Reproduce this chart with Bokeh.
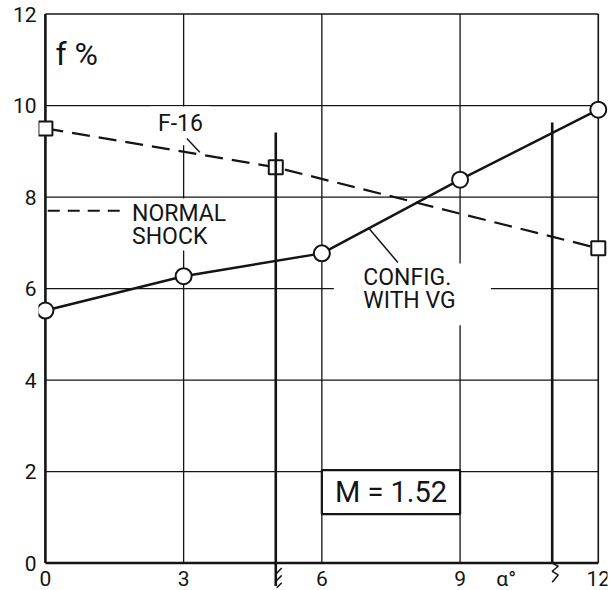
from bokeh.plotting import figure
from bokeh.models import FixedTicker, Range1d
from bokeh.embed import file_html
from bokeh.resources import INLINE
from bokeh.core.properties import value

# ---- data ----
alpha_vg = [0, 3, 6, 9, 12]
f_vg = [5.52, 6.27, 6.77, 8.38, 9.91]
alpha_f16 = [0, 5, 12]
f_f16 = [9.5, 8.65, 6.88]
normal_shock_f = 7.7
normal_shock_alpha = [0.05, 1.65]
x_ticks = [0, 3, 6, 9, 10, 12]
x_tick_labels = {10: "α°"}
y_ticks = [0, 2, 4, 6, 8, 10, 12]
x_grid = [3, 6, 9]
y_grid = [2, 4, 6, 8, 10]
vline_alpha = [5, 11]
vline_top = [9.41, 9.63]
mach_label = "M = 1.52"

FONT = value("Roboto")
INK = "#141414"

p = figure(width=613, height=590, x_range=Range1d(-0.15, 12.2), y_range=Range1d(-0.6, 12.1),
           output_backend="svg", toolbar_location=None,
           min_border_left=38, min_border_right=6, min_border_top=9, min_border_bottom=0)
p.outline_line_color = None
p.grid.visible = False
p.background_fill_color = "white"
p.border_fill_color = "white"

# axes: labels only, lines drawn below as glyphs
p.xaxis.fixed_location = 0
p.xaxis.ticker = FixedTicker(ticks=x_ticks)
p.xaxis.major_label_overrides = x_tick_labels
p.yaxis.ticker = FixedTicker(ticks=y_ticks)
for ax in (p.xaxis[0], p.yaxis[0]):
    ax.axis_line_color = None
    ax.major_tick_line_color = None
    ax.minor_tick_line_color = None
    ax.major_tick_out = 0
    ax.major_tick_in = 0
    ax.minor_tick_out = 0
    ax.minor_tick_in = 0
    ax.major_label_text_font = "Roboto"
    ax.major_label_text_font_size = "21px"
    ax.major_label_text_color = INK
p.xaxis.major_label_standoff = 4
p.yaxis.major_label_standoff = 2

x0, x1 = x_ticks[0], x_ticks[-1]
y0, y1 = y_ticks[0], y_ticks[-1]

# grid
p.segment(x0=x_grid, y0=y0, x1=x_grid, y1=y1, line_color=INK, line_width=1.3)
p.segment(x0=x0, y0=y_grid, x1=x1, y1=y_grid, line_color=INK, line_width=1.3)

# white backgrounds behind annotation texts
p.quad(left=[2.28, 1.74, 6.26], right=[3.59, 4.13, 9.67], bottom=[9.13, 6.83, 5.2],
       top=[9.98, 7.97, 6.55], fill_color="white", line_color=None)

# frame and axis lines
p.segment(x0=[x0, x1], y0=[y1, y0], x1=[x1, x1], y1=[y1, y1], line_color=INK, line_width=1.6)
p.segment(x0=[x0, x0], y0=[y0, y0], x1=[x0, x1], y1=[y1, y0], line_color=INK, line_width=2.6)

# normal shock indicator
p.line(normal_shock_alpha, [normal_shock_f] * 2, line_color=INK, line_width=2, line_dash="12 8")

# curves
p.line(alpha_f16, f_f16, line_color=INK, line_width=2.2, line_dash="18 9")
p.line(alpha_vg, f_vg, line_color=INK, line_width=2.4)
p.scatter(alpha_vg, f_vg, marker="circle", size=16, fill_color="white", line_color=INK, line_width=2)
p.scatter(alpha_f16, f_f16, marker="square", size=14, fill_color="white", line_color=INK, line_width=2)

# thick vertical lines with hatch marks below the axis
p.segment(x0=vline_alpha, y0=[-0.5, y0], x1=vline_alpha, y1=vline_top, line_color=INK, line_width=2.6)
a = vline_alpha[0]
p.segment(x0=[a + 0.02] * 3, y0=[-0.22, -0.38, -0.54], x1=[a + 0.13] * 3, y1=[-0.11, -0.27, -0.43],
          line_color=INK, line_width=1.5)
b = vline_alpha[1]
p.line([b, b + 0.13, b, b + 0.13, b], [0, -0.07, -0.18, -0.26, -0.42], line_color=INK, line_width=1.5)

# texts
p.text(x=[0.22], y=[11.13], text=["f %"], text_font=FONT, text_font_size="32px",
       text_baseline="middle", text_align="left", text_color=INK)
p.text(x=[2.93], y=[9.61], text=["F-16"], text_font=FONT, text_font_size="23px",
       text_baseline="middle", text_align="center", text_color=INK)
p.text(x=[1.88, 1.88], y=[7.64, 7.13], text=["NORMAL", "SHOCK"], text_font=FONT, text_font_size="23px",
       text_baseline="middle", text_align="left", text_color=INK)
p.text(x=[6.9, 6.9], y=[6.24, 5.74], text=["CONFIG.", "WITH VG"], text_font=FONT, text_font_size="23px",
       text_baseline="middle", text_align="left", text_color=INK)

# leader lines
p.segment(x0=[3.07, 7.02], y0=[9.28, 7.32], x1=[3.35, 7.65], y1=[8.98, 6.57], line_color=INK, line_width=1.5)

# Mach box
p.quad(left=[6], right=[9], bottom=[1.07], top=[2.03], fill_color="white", line_color=INK, line_width=2.2)
p.text(x=[7.5], y=[1.55], text=[mach_label], text_font=FONT, text_font_size="29px",
       text_baseline="middle", text_align="center", text_color=INK)

open("out.html", "w").write(file_html(p, INLINE))
